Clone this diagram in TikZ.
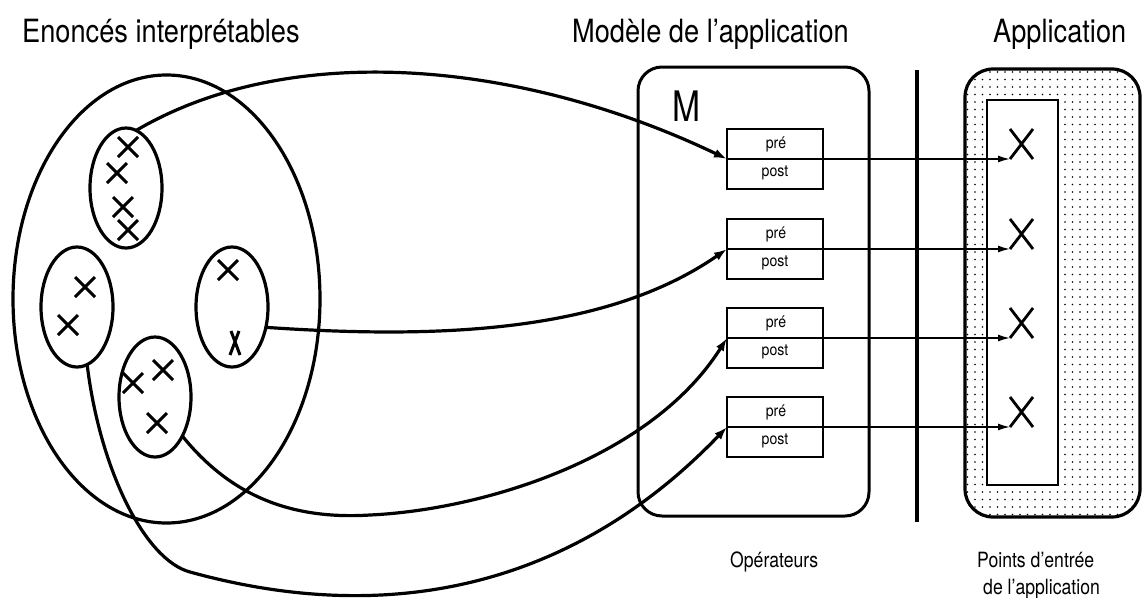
\documentclass[tikz,border=0pt]{standalone}
\usepackage{fontspec}
\setmainfont{TeX Gyre Heros}
\usetikzlibrary{shapes.geometric,arrows.meta,patterns.meta,calc}
\begin{document}
\begin{tikzpicture}[x=1pt,y=-1pt,
  oval/.style={ellipse, draw, line width=3.2pt, minimum width=72pt, minimum height=120pt, inner sep=0pt, outer sep=0pt},
  bigoval/.style={ellipse, draw, line width=3.2pt, minimum width=307pt, minimum height=448pt, inner sep=0pt, outer sep=0pt},
  curve/.style={line width=3.2pt, -{Latex[length=13pt,width=9pt]}},
  opbox/.style={draw, fill=white, line width=1.6pt, minimum width=96pt, minimum height=60pt, inner sep=0pt, outer sep=0pt},
  hline/.style={line width=1.7pt, -{Latex[length=12pt,width=7pt]}},
  crs/.pic={\draw[line width=3pt] (-10,-10)--(10,10) (-10,10)--(10,-10);},
  ncrs/.pic={\draw[line width=3pt] (-4,-12)--(5,12) (4,-12)--(-5,12);},
  bigx/.pic={\draw[line width=2.8pt] (-11.5,-15)--(11.5,15) (11.5,-15)--(-11.5,15);},
  title/.style={font=\fontsize{32}{36}\selectfont, anchor=base west, inner sep=0pt},
  small/.style={font=\fontsize{21}{24}\selectfont, anchor=base west, inner sep=0pt},
  pp/.style={font=\fontsize{16}{16}\selectfont, inner sep=0pt},
]
\useasboundingbox (0,0) rectangle (1142,597);

% titles
\node[title] (t1) at (22,42) {\scalebox{0.85}[1]{Enoncés interprétables}};
\node[title] (t2) at (572,42) {\scalebox{0.85}[1]{Modèle de l’application}};
\node[title] (t3) at (993,42) {\scalebox{0.85}[1]{Application}};

% application box
\draw[line width=3.2pt, rounded corners=28pt, pattern={Dots[distance=7.5pt, radius=0.9pt]}, pattern color=black] (965,69) rectangle (1140,517);
\draw[line width=2.4pt, fill=white] (987,100) rectangle (1058,485);

% separator bar
\draw[line width=4.2pt] (917,70) -- (917,522);

% model box
\draw[line width=3pt, rounded corners=24pt] (638,67) rectangle (869,516);
\node[font=\fontsize{42}{42}\selectfont, anchor=base west, inner sep=0pt] (M) at (672,121) {\scalebox{0.8}[1]{M}};

% operator boxes
\foreach \i/\d in {1/159,2/249,3/338,4/427}{
  \node[opbox] (op\i) at (775,\d) {};
  \node[pp] (pre\i) at (776,\d-15) {\scalebox{0.88}[1]{pré}};
  \node[pp] (post\i) at (775,\d+14) {\scalebox{0.88}[1]{post}};
  \coordinate (tip\i) at (1010,\d);
  \pic (X\i) at (1021.5,\d-15) {bigx};
  \draw[hline] (op\i.west) -- (tip\i);
}

% left big ellipse and groups
\node[bigoval] (big) at (166.5,299) {};
\node[oval] (e1) at (126,188) {};
\node[oval] (e2) at (77,307) {};
\node[oval] (e3) at (232,307) {};
\node[oval] (e4) at (155,397) {};

\pic at (128,147) {crs};
\pic at (117,173) {crs};
\pic at (123,207) {crs};
\pic at (128,230) {crs};
\pic at (85,287) {crs};
\pic at (68,325) {crs};
\pic at (228,270) {crs};
\pic at (235,343) {ncrs};
\pic at (133,383) {crs};
\pic at (163,370) {crs};
\pic at (157,423) {crs};

% connectors
\coordinate (c3) at (370,515);
\coordinate (c4) at (190,572);
\draw[curve] (e1.80) .. controls (290,40) and (520,60) .. (op1.west);
\draw[curve] (e3.-31) .. controls (450,340) and (610,330) .. (op2.west);
\draw[curve] (e4.-55) .. controls (230,495) and (290,520) .. (c3) .. controls (480,510) and (650,460) .. (op3.west);
\draw[curve] (e2.-80) .. controls (100,470) and (145,560) .. (c4) .. controls (400,630) and (580,580) .. (op4.west);

% bottom labels
\node[small] (lop) at (730,567) {\scalebox{0.84}[1]{Opérateurs}};
\node[small] (lpe1) at (977,567) {\scalebox{0.84}[1]{Points d’entrée}};
\node[small] (lpe2) at (983,594) {\scalebox{0.84}[1]{de l’application}};
\end{tikzpicture}
\end{document}
